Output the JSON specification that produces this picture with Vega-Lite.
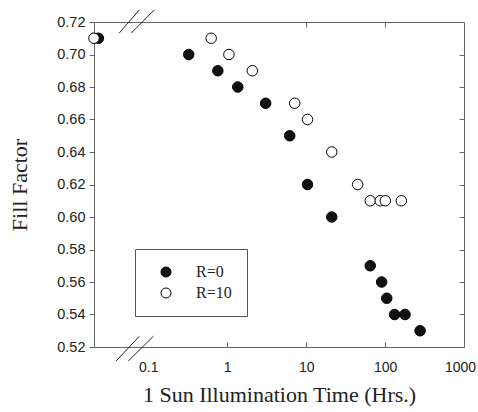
{
  "$schema": "https://vega.github.io/schema/vega-lite/v6.json",
  "width": 370,
  "height": 325,
  "autosize": {"type": "none"},
  "padding": {"left": 94, "top": 22, "right": 14, "bottom": 65},
  "background": "white",
  "config": {"view": {"stroke": null}, "font": "Liberation Sans"},
  "datasets": {
    "points": [
      {"series": "R=0", "time": 0.0233, "ff": 0.71},
      {"series": "R=0", "time": 0.325, "ff": 0.70},
      {"series": "R=0", "time": 0.76, "ff": 0.69},
      {"series": "R=0", "time": 1.36, "ff": 0.68},
      {"series": "R=0", "time": 3.07, "ff": 0.67},
      {"series": "R=0", "time": 6.19, "ff": 0.65},
      {"series": "R=0", "time": 10.4, "ff": 0.62},
      {"series": "R=0", "time": 21.1, "ff": 0.60},
      {"series": "R=0", "time": 64.9, "ff": 0.57},
      {"series": "R=0", "time": 90.5, "ff": 0.56},
      {"series": "R=0", "time": 105, "ff": 0.55},
      {"series": "R=0", "time": 132, "ff": 0.54},
      {"series": "R=0", "time": 179, "ff": 0.54},
      {"series": "R=0", "time": 278, "ff": 0.53},
      {"series": "R=10", "time": 0.0205, "ff": 0.71},
      {"series": "R=10", "time": 0.626, "ff": 0.71},
      {"series": "R=10", "time": 1.05, "ff": 0.70},
      {"series": "R=10", "time": 2.08, "ff": 0.69},
      {"series": "R=10", "time": 7.16, "ff": 0.67},
      {"series": "R=10", "time": 10.4, "ff": 0.66},
      {"series": "R=10", "time": 21.1, "ff": 0.64},
      {"series": "R=10", "time": 44.9, "ff": 0.62},
      {"series": "R=10", "time": 64.9, "ff": 0.61},
      {"series": "R=10", "time": 86.9, "ff": 0.61},
      {"series": "R=10", "time": 100.6, "ff": 0.61},
      {"series": "R=10", "time": 160.7, "ff": 0.61}
    ],
    "breaks": [
      {"xa": 0.0428, "xb": 0.0768, "ya": 0.7132, "yb": 0.7274},
      {"xa": 0.0608, "xb": 0.119, "ya": 0.7132, "yb": 0.7274},
      {"xa": 0.0392, "xb": 0.0768, "ya": 0.5114, "yb": 0.5266},
      {"xa": 0.0557, "xb": 0.116, "ya": 0.5114, "yb": 0.5266}
    ]
  },
  "layer": [
    {
      "data": {"name": "breaks"},
      "mark": {"type": "rule", "color": "#222", "strokeWidth": 1},
      "encoding": {
        "x": {
          "field": "xa", "type": "quantitative",
          "scale": {"type": "log", "domain": [0.0205, 1000], "nice": false},
          "axis": {"orient": "top", "values": [10, 100], "labels": false, "title": null, "tickSize": -5, "tickColor": "#666", "domainColor": "#666", "grid": false}
        },
        "x2": {"field": "xb"},
        "y": {
          "field": "ya", "type": "quantitative",
          "scale": {"domain": [0.52, 0.72], "nice": false, "zero": false},
          "axis": {"orient": "right", "values": [0.52, 0.54, 0.56, 0.58, 0.6, 0.62, 0.64, 0.66, 0.68, 0.7, 0.72], "labels": false, "title": null, "tickSize": -5, "tickColor": "#666", "domainColor": "#666", "grid": false}
        },
        "y2": {"field": "yb"}
      }
    },
    {
      "data": {"name": "points"},
      "mark": {"type": "circle", "size": 110, "stroke": "black", "strokeWidth": 1, "opacity": 1},
      "encoding": {
        "x": {
          "field": "time", "type": "quantitative",
          "scale": {"type": "log", "domain": [0.0205, 1000], "nice": false},
          "axis": {
            "orient": "bottom", "values": [0.1, 1, 10, 100, 1000], "format": "~g",
            "title": "1 Sun Illumination Time (Hrs.)", "titleFont": "Liberation Serif", "titleFontSize": 22, "titleFontWeight": "normal", "titleColor": "#222", "titlePadding": 10,
            "labelFont": "Liberation Sans", "labelFontSize": 14, "labelColor": "#222", "labelPadding": 18, "labelFlush": false, "labelOverlap": false,
            "labelOffset": {"condition": {"test": "datum.value > 500", "value": -4}, "value": 0},
            "tickSize": -5,
            "tickColor": {"condition": {"test": "datum.value < 0.5 || datum.value > 500", "value": "transparent"}, "value": "#666"},
            "domainColor": "#666", "grid": false
          }
        },
        "y": {
          "field": "ff", "type": "quantitative",
          "scale": {"domain": [0.52, 0.72], "nice": false, "zero": false},
          "axis": {
            "orient": "left", "values": [0.52, 0.54, 0.56, 0.58, 0.6, 0.62, 0.64, 0.66, 0.68, 0.7, 0.72], "format": ".2f",
            "title": "Fill Factor", "titleFont": "Liberation Serif", "titleFontSize": 22, "titleFontWeight": "normal", "titleColor": "#222", "titlePadding": 25,
            "labelFont": "Liberation Sans", "labelFontSize": 14.5, "labelColor": "#222", "labelPadding": 4, "labelFlush": false,
            "tickSize": 5, "tickColor": "#666", "domainColor": "#666", "grid": false
          }
        },
        "fill": {
          "field": "series", "type": "nominal",
          "scale": {"domain": ["R=0", "R=10"], "range": ["#111111", "#ffffff"]},
          "legend": {
            "orient": "none", "legendX": 41, "legendY": 227, "title": null,
            "padding": 15, "strokeColor": "#555", "fillColor": "white",
            "labelFont": "Liberation Serif", "labelFontSize": 16, "labelColor": "#222",
            "symbolType": "circle", "symbolSize": 100, "symbolStrokeColor": "black", "symbolStrokeWidth": 1, "symbolOpacity": 1,
            "symbolOffset": 8, "labelOffset": 22, "rowPadding": 5
          }
        }
      }
    }
  ],
  "resolve": {"axis": {"x": "independent", "y": "independent"}}
}
